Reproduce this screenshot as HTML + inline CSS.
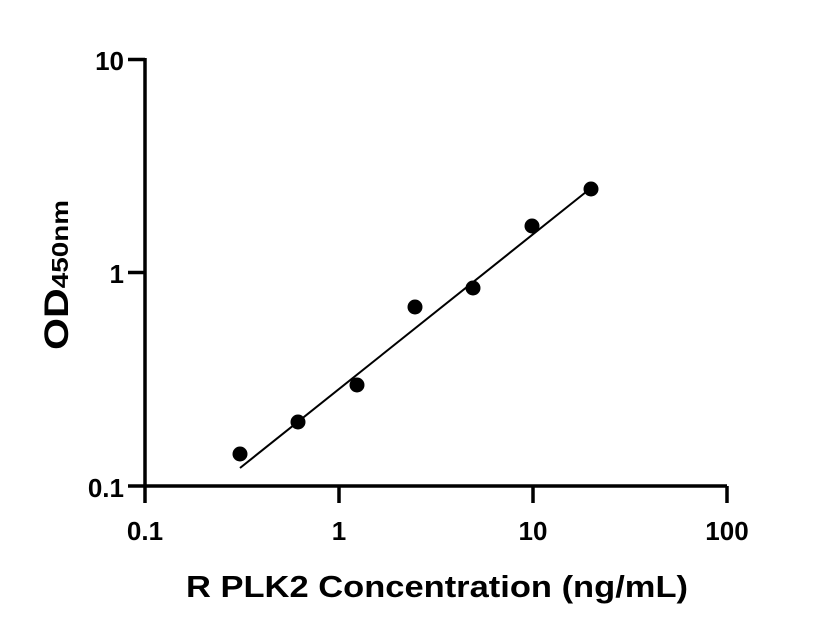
<!DOCTYPE html>
<html><head><style>body{margin:0;background:#fff}svg{display:block}</style></head><body>
<svg width="816" height="640" xmlns="http://www.w3.org/2000/svg" font-family="Liberation Sans, sans-serif" font-weight="bold">
<g stroke="#000" stroke-width="3.5" fill="none">
<line x1="145" y1="58" x2="145" y2="503"/>
<line x1="128" y1="486" x2="727" y2="486"/>
<line x1="128" y1="59.5" x2="145" y2="59.5"/>
<line x1="128" y1="272.5" x2="145" y2="272.5"/>
<line x1="339" y1="486" x2="339" y2="503"/>
<line x1="533" y1="486" x2="533" y2="503"/>
<line x1="727" y1="486" x2="727" y2="503"/>
</g>
<g font-size="26" text-anchor="end">
<text x="124" y="70">10</text>
<text x="124" y="283">1</text>
<text x="124" y="497">0.1</text>
</g>
<g font-size="26" text-anchor="middle">
<text x="145" y="540">0.1</text>
<text x="339" y="540">1</text>
<text x="533" y="540">10</text>
<text x="727" y="540">100</text>
</g>
<text x="186" y="597" font-size="31" textLength="502" lengthAdjust="spacingAndGlyphs">R PLK2 Concentration (ng/mL)</text>
<text transform="translate(68,350) rotate(-90)" font-size="34" textLength="150" lengthAdjust="spacingAndGlyphs">OD<tspan font-size="23">450nm</tspan></text>
<line x1="240" y1="468" x2="591" y2="188" stroke="#000" stroke-width="2"/>
<g fill="#000">
<circle cx="240" cy="454" r="7.5"/><circle cx="298" cy="422" r="7.5"/><circle cx="357" cy="385" r="7.5"/>
<circle cx="415" cy="307" r="7.5"/><circle cx="473" cy="288" r="7.5"/><circle cx="532" cy="226" r="7.5"/><circle cx="591" cy="189" r="7.5"/>
</g>
</svg>
</body></html>
